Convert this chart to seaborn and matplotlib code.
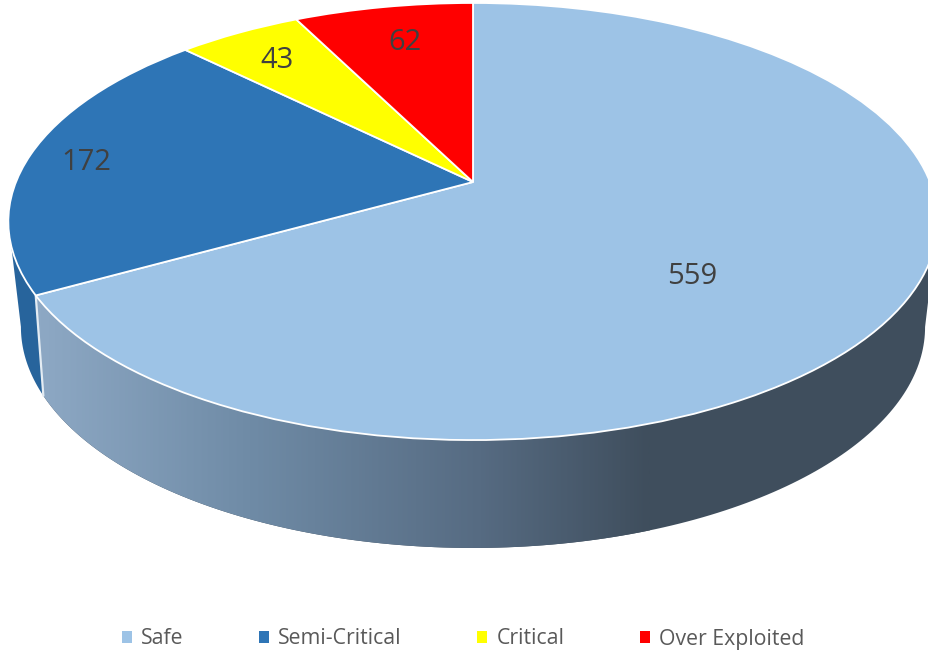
import numpy as np
import matplotlib
matplotlib.use("Agg")
import matplotlib.pyplot as plt
import seaborn as sns
from matplotlib.colors import LinearSegmentedColormap
from matplotlib.path import Path
from matplotlib.transforms import Transform

categories = ["Safe", "Semi-Critical", "Critical", "Over Exploited"]
values = [559, 172, 43, 62]
slice_colors = ["#9DC3E6", "#2E75B6", "#FFFF00", "#FF0000"]


class Rim(Transform):
    # maps the unit pie circle to a tilted ellipse, in image pixels
    input_dims = 2
    output_dims = 2
    is_separable = False
    has_inverse = False

    def __init__(self, cx, cy, a, b, k):
        super().__init__()
        self.cx, self.cy, self.a, self.b, self.k = cx, cy, a, b, k

    def transform_non_affine(self, xy):
        xy = np.asarray(xy, dtype=float)
        w = 1 + self.k * xy[:, 1]
        return np.column_stack([self.cx + self.a * xy[:, 0] / w,
                                self.cy - self.b * xy[:, 1] / w])

    def transform_path_non_affine(self, path):
        return Path(self.transform_non_affine(path.vertices), path.codes)


def arc(rim, start, stop):
    t = np.radians(np.linspace(start, stop, 150))
    return rim.transform_non_affine(np.column_stack([np.cos(t), np.sin(t)]))


sns.set_theme(style="white")
plt.rcParams["font.family"] = ["Open Sans", "DejaVu Sans"]

fig = plt.figure(figsize=(9.29, 6.58), dpi=100)
ax = fig.add_axes([0, 0, 1, 1])

top = Rim(473, 182, 457, 211.4, 0.1808)
bottom = Rim(473, 280.6, 442, 211.2, 0.21)

wedges, _ = ax.pie(values, colors=slice_colors, startangle=90, counterclock=False,
                   wedgeprops={"edgecolor": "white", "linewidth": 1.3})
for w in wedges:
    w.set_transform(top + ax.transData)
    w.set_zorder(3)

split = wedges[0].theta1

# side wall, Safe part with the left to right shading
safe_wall = np.vstack([arc(top, split, -10.4), arc(bottom, -12.1, split)])
clip = ax.fill(safe_wall[:, 0], safe_wall[:, 1], facecolor="none", edgecolor="none")[0]
shade = LinearSegmentedColormap.from_list(
    "wall", [(0, "#8FAAC6"), (0.36, "#6F8BA6"), (0.73, "#566B82"), (1, "#3F4E5D")])
im = ax.imshow(np.linspace(0, 1, 400).reshape(1, -1), cmap=shade, aspect="auto",
               extent=[25, 650, 560, 0], zorder=1)
im.set_clip_path(clip)
ax.fill(safe_wall[:, 0], safe_wall[:, 1], color="#3F4E5D", zorder=0.5, linewidth=0)

# side wall, Semi-Critical part
left_wall = np.vstack([arc(top, split, -169.6), arc(bottom, -167.9, split)])
ax.fill(left_wall[:, 0], left_wall[:, 1], color="#27649C", zorder=1, linewidth=0)

edge = np.vstack([arc(top, split, split)[:1], arc(bottom, split, split)[:1]])
ax.plot(edge[:, 0], edge[:, 1], color="#E4ECF3", lw=1.6, zorder=2)

label_pos = [(692, 277), (86, 162), (277, 60), (405, 42)]
for v, (x, y) in zip(values, label_pos):
    ax.text(x, y, str(v), ha="center", va="center", fontsize=21, color="#404040", zorder=4)

leg = ax.legend(wedges, categories, loc="center", bbox_to_anchor=(0.4985, 1 - 639 / 658),
                ncol=4, frameon=False, fontsize=15.3, labelcolor="#595959",
                handlelength=0.47, handleheight=0.47, handletextpad=0.42, columnspacing=3.57)
for h in leg.legend_handles:
    h.set_edgecolor("none")

ax.set_aspect("auto")
ax.set_xlim(0, 929)
ax.set_ylim(658, 0)
ax.axis("off")

fig.savefig("out.png", dpi=100, facecolor="white")
plt.close(fig)
